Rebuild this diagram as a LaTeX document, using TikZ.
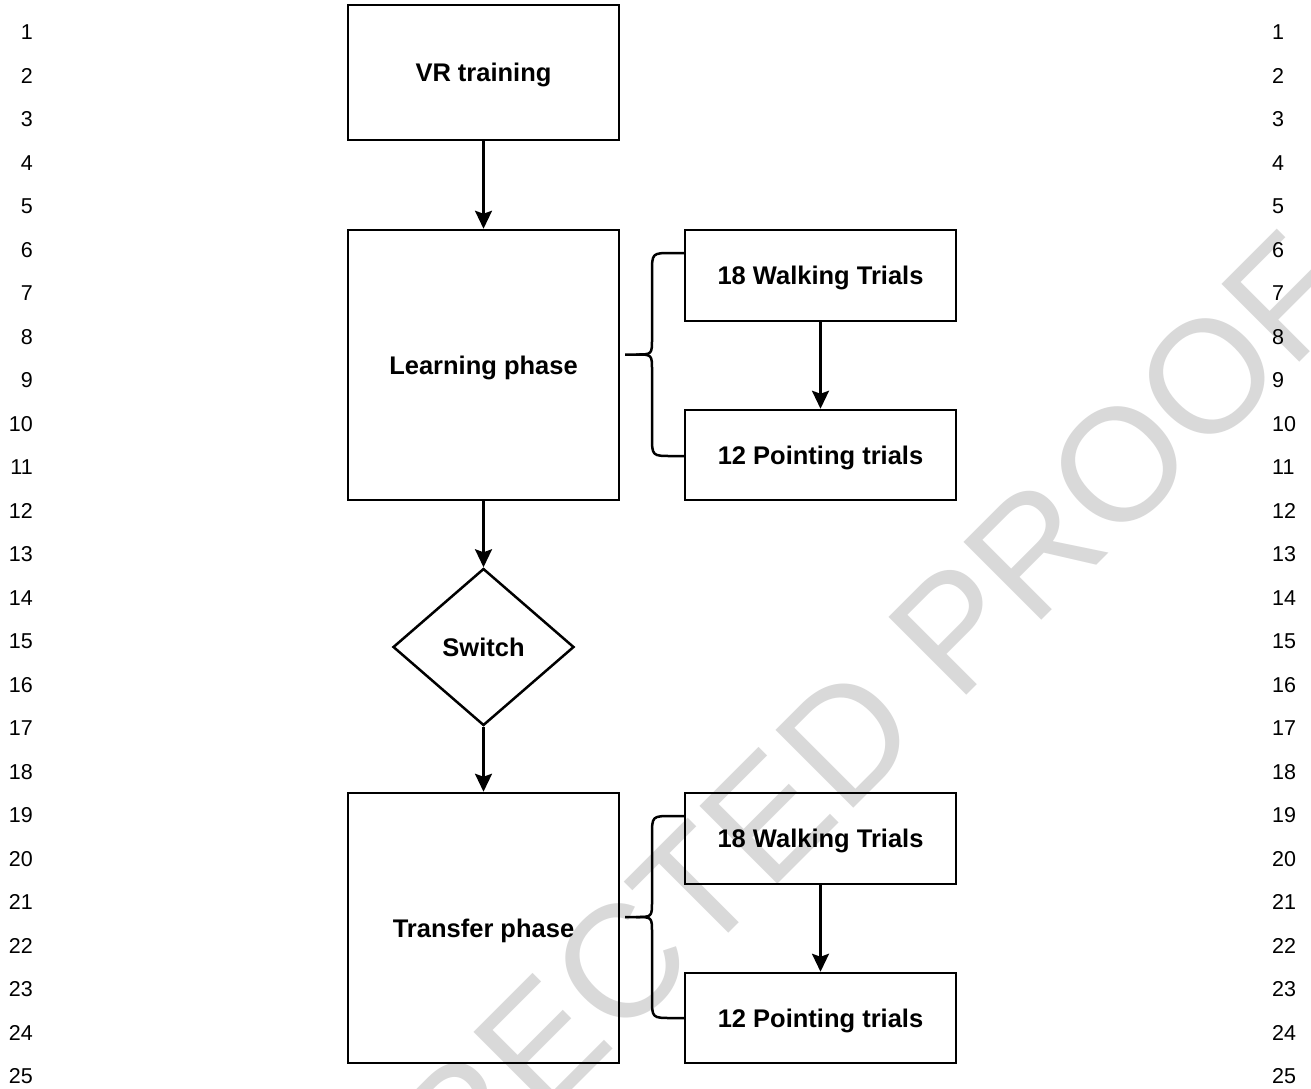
\documentclass[tikz,border=0pt]{standalone}
\usepackage{fontspec}
\setmainfont{Liberation Sans}
\usetikzlibrary{arrows.meta,shapes.geometric}
\definecolor{wmgray}{RGB}{217,217,217}
\begin{document}
\begin{tikzpicture}[x=1pt,y=-1pt,
  box/.style={draw,line width=2.5pt,inner sep=0pt,text depth=0pt,font=\fontsize{25.5}{30}\selectfont\bfseries},
  decision/.style={draw,diamond,line width=2.5pt,inner sep=0pt,text depth=0pt,aspect=1.15,minimum width=181pt,minimum height=157pt,font=\fontsize{25.5}{30}\selectfont\bfseries},
  flow/.style={line width=2.5pt,-{Stealth[length=18pt,width=17pt,inset=3pt]}},
  brace/.style={line width=2.5pt,line join=round},
  lnum/.style={inner sep=0pt,font=\fontsize{21.5}{24}\selectfont},
  wm/.style={inner sep=0pt,text=wmgray,font=\fontsize{160}{160}\selectfont}]
\useasboundingbox (0,0) rectangle (1311,1088);
\fill[white] (0,0) rectangle (1311,1088);
% watermark
\begin{scope}
\clip (0,0) rectangle (1311,1088);
\node[wm,anchor=base west,rotate=45] (wmark) at (46,1616) {UNCORRECTED PROOF};
\end{scope}
% line numbers
\foreach \i in {1,...,25}{
  \node[lnum,anchor=base east] (ln\i) at (33,{32+(\i-1)*43.5+7.5}) {\i};
  \node[lnum,anchor=base west] (rn\i) at (1272,{32+(\i-1)*43.5+7.5}) {\i};
}
% boxes
\node[box,minimum width=271pt,minimum height=135pt] (vr) at (483.5,72.5) {VR training};
\node[box,minimum width=271pt,minimum height=270pt] (lp) at (483.5,365) {Learning phase};
\node[box,minimum width=271pt,minimum height=91pt] (wt1) at (820.5,275.5) {18 Walking Trials};
\node[box,minimum width=271pt,minimum height=90pt] (pt1) at (820.5,455) {12 Pointing trials};
\node[decision] (sw) at (483.5,647) {Switch};
\node[box,minimum width=271pt,minimum height=270pt] (tp) at (483.5,928) {Transfer phase};
\node[box,minimum width=271pt,minimum height=91pt] (wt2) at (820.5,838.5) {18 Walking Trials};
\node[box,minimum width=271pt,minimum height=90pt] (pt2) at (820.5,1018) {12 Pointing trials};
% arrows
\draw[flow] (vr.south) -- (lp.north);
\draw[flow] (lp.south) -- (sw.north);
\draw[flow] (sw.south) -- (tp.north);
\draw[flow] (wt1.south) -- (pt1.north);
\draw[flow] (wt2.south) -- (pt2.north);
% braces
\coordinate (b1top) at (685,253);
\coordinate (b1bot) at (685,456);
\coordinate (b1tip) at (625,354.5);
\draw[brace] (b1top) -- (672,253) .. controls (652,253) .. (652,273) -- (652,338.5) .. controls (652,354.5) .. (636,354.5) -- (b1tip);
\draw[brace] (636,354.5) .. controls (652,354.5) .. (652,370.5) -- (652,436) .. controls (652,456) .. (672,456) -- (b1bot);
\coordinate (b2top) at (685,816);
\coordinate (b2bot) at (685,1018);
\coordinate (b2tip) at (625,917);
\draw[brace] (b2top) -- (672,816) .. controls (652,816) .. (652,836) -- (652,901) .. controls (652,917) .. (636,917) -- (b2tip);
\draw[brace] (636,917) .. controls (652,917) .. (652,933) -- (652,998) .. controls (652,1018) .. (672,1018) -- (b2bot);
\end{tikzpicture}
\end{document}
